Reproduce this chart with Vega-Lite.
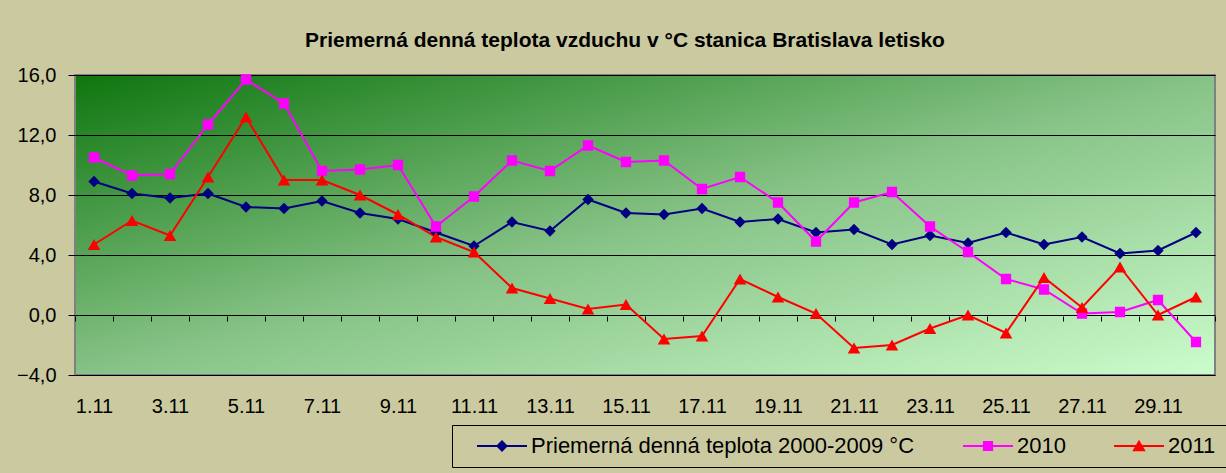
{
  "$schema": "https://vega.github.io/schema/vega-lite/v6.json",
  "width": 1140,
  "height": 300,
  "autosize": "none",
  "padding": {"left": 75, "top": 75, "right": 11, "bottom": 98},
  "background": "#cbc9a0",
  "title": {
    "text": "Priemerná denná teplota vzduchu v °C stanica Bratislava letisko",
    "font": "Liberation Sans",
    "fontSize": 21,
    "fontWeight": "bold",
    "color": "black",
    "anchor": "middle",
    "dx": -20,
    "offset": 14
  },
  "config": {
    "view": {
      "stroke": "#808080",
      "strokeWidth": 2,
      "fill": {
        "gradient": "linear",
        "x1": 0, "y1": 0, "x2": 1, "y2": 1,
        "stops": [
          {"offset": 0, "color": "#0e760e"},
          {"offset": 0.5, "color": "#86c286"},
          {"offset": 1, "color": "#ccfccc"}
        ]
      }
    },
    "axis": {"labelFont": "Liberation Sans", "labelColor": "black", "titleFont": "Liberation Sans"}
  },
  "data": {
    "values": [
      {"day": "1.11", "series": "Priemerná denná teplota 2000-2009 °C", "t": 8.9},
      {"day": "2.11", "series": "Priemerná denná teplota 2000-2009 °C", "t": 8.1},
      {"day": "3.11", "series": "Priemerná denná teplota 2000-2009 °C", "t": 7.8},
      {"day": "4.11", "series": "Priemerná denná teplota 2000-2009 °C", "t": 8.1},
      {"day": "5.11", "series": "Priemerná denná teplota 2000-2009 °C", "t": 7.2},
      {"day": "6.11", "series": "Priemerná denná teplota 2000-2009 °C", "t": 7.1},
      {"day": "7.11", "series": "Priemerná denná teplota 2000-2009 °C", "t": 7.6},
      {"day": "8.11", "series": "Priemerná denná teplota 2000-2009 °C", "t": 6.8},
      {"day": "9.11", "series": "Priemerná denná teplota 2000-2009 °C", "t": 6.4},
      {"day": "10.11", "series": "Priemerná denná teplota 2000-2009 °C", "t": 5.5},
      {"day": "11.11", "series": "Priemerná denná teplota 2000-2009 °C", "t": 4.6},
      {"day": "12.11", "series": "Priemerná denná teplota 2000-2009 °C", "t": 6.2},
      {"day": "13.11", "series": "Priemerná denná teplota 2000-2009 °C", "t": 5.6},
      {"day": "14.11", "series": "Priemerná denná teplota 2000-2009 °C", "t": 7.7},
      {"day": "15.11", "series": "Priemerná denná teplota 2000-2009 °C", "t": 6.8},
      {"day": "16.11", "series": "Priemerná denná teplota 2000-2009 °C", "t": 6.7},
      {"day": "17.11", "series": "Priemerná denná teplota 2000-2009 °C", "t": 7.1},
      {"day": "18.11", "series": "Priemerná denná teplota 2000-2009 °C", "t": 6.2},
      {"day": "19.11", "series": "Priemerná denná teplota 2000-2009 °C", "t": 6.4},
      {"day": "20.11", "series": "Priemerná denná teplota 2000-2009 °C", "t": 5.5},
      {"day": "21.11", "series": "Priemerná denná teplota 2000-2009 °C", "t": 5.7},
      {"day": "22.11", "series": "Priemerná denná teplota 2000-2009 °C", "t": 4.7},
      {"day": "23.11", "series": "Priemerná denná teplota 2000-2009 °C", "t": 5.3},
      {"day": "24.11", "series": "Priemerná denná teplota 2000-2009 °C", "t": 4.8},
      {"day": "25.11", "series": "Priemerná denná teplota 2000-2009 °C", "t": 5.5},
      {"day": "26.11", "series": "Priemerná denná teplota 2000-2009 °C", "t": 4.7},
      {"day": "27.11", "series": "Priemerná denná teplota 2000-2009 °C", "t": 5.2},
      {"day": "28.11", "series": "Priemerná denná teplota 2000-2009 °C", "t": 4.1},
      {"day": "29.11", "series": "Priemerná denná teplota 2000-2009 °C", "t": 4.3},
      {"day": "30.11", "series": "Priemerná denná teplota 2000-2009 °C", "t": 5.5},
      {"day": "1.11", "series": "2010", "t": 10.5},
      {"day": "2.11", "series": "2010", "t": 9.3},
      {"day": "3.11", "series": "2010", "t": 9.4},
      {"day": "4.11", "series": "2010", "t": 12.7},
      {"day": "5.11", "series": "2010", "t": 15.7},
      {"day": "6.11", "series": "2010", "t": 14.1},
      {"day": "7.11", "series": "2010", "t": 9.6},
      {"day": "8.11", "series": "2010", "t": 9.7},
      {"day": "9.11", "series": "2010", "t": 10.0},
      {"day": "10.11", "series": "2010", "t": 5.9},
      {"day": "11.11", "series": "2010", "t": 7.9},
      {"day": "12.11", "series": "2010", "t": 10.3},
      {"day": "13.11", "series": "2010", "t": 9.6},
      {"day": "14.11", "series": "2010", "t": 11.3},
      {"day": "15.11", "series": "2010", "t": 10.2},
      {"day": "16.11", "series": "2010", "t": 10.3},
      {"day": "17.11", "series": "2010", "t": 8.4},
      {"day": "18.11", "series": "2010", "t": 9.2},
      {"day": "19.11", "series": "2010", "t": 7.5},
      {"day": "20.11", "series": "2010", "t": 4.9},
      {"day": "21.11", "series": "2010", "t": 7.5},
      {"day": "22.11", "series": "2010", "t": 8.2},
      {"day": "23.11", "series": "2010", "t": 5.9},
      {"day": "24.11", "series": "2010", "t": 4.2},
      {"day": "25.11", "series": "2010", "t": 2.4},
      {"day": "26.11", "series": "2010", "t": 1.7},
      {"day": "27.11", "series": "2010", "t": 0.1},
      {"day": "28.11", "series": "2010", "t": 0.2},
      {"day": "29.11", "series": "2010", "t": 1.0},
      {"day": "30.11", "series": "2010", "t": -1.8},
      {"day": "1.11", "series": "2011", "t": 4.7},
      {"day": "2.11", "series": "2011", "t": 6.3},
      {"day": "3.11", "series": "2011", "t": 5.3},
      {"day": "4.11", "series": "2011", "t": 9.2},
      {"day": "5.11", "series": "2011", "t": 13.2},
      {"day": "6.11", "series": "2011", "t": 9.0},
      {"day": "7.11", "series": "2011", "t": 9.0},
      {"day": "8.11", "series": "2011", "t": 8.0},
      {"day": "9.11", "series": "2011", "t": 6.7},
      {"day": "10.11", "series": "2011", "t": 5.2},
      {"day": "11.11", "series": "2011", "t": 4.2},
      {"day": "12.11", "series": "2011", "t": 1.8},
      {"day": "13.11", "series": "2011", "t": 1.1},
      {"day": "14.11", "series": "2011", "t": 0.4},
      {"day": "15.11", "series": "2011", "t": 0.7},
      {"day": "16.11", "series": "2011", "t": -1.6},
      {"day": "17.11", "series": "2011", "t": -1.4},
      {"day": "18.11", "series": "2011", "t": 2.4},
      {"day": "19.11", "series": "2011", "t": 1.2},
      {"day": "20.11", "series": "2011", "t": 0.1},
      {"day": "21.11", "series": "2011", "t": -2.2},
      {"day": "22.11", "series": "2011", "t": -2.0},
      {"day": "23.11", "series": "2011", "t": -0.9},
      {"day": "24.11", "series": "2011", "t": 0.0},
      {"day": "25.11", "series": "2011", "t": -1.2},
      {"day": "26.11", "series": "2011", "t": 2.5},
      {"day": "27.11", "series": "2011", "t": 0.5},
      {"day": "28.11", "series": "2011", "t": 3.2},
      {"day": "29.11", "series": "2011", "t": 0.0},
      {"day": "30.11", "series": "2011", "t": 1.2}
    ]
  },
  "encoding": {
    "x": {
      "field": "day",
      "type": "ordinal",
      "scale": {
        "type": "band",
        "paddingInner": 0,
        "paddingOuter": 0,
        "domain": ["1.11","2.11","3.11","4.11","5.11","6.11","7.11","8.11","9.11","10.11","11.11","12.11","13.11","14.11","15.11","16.11","17.11","18.11","19.11","20.11","21.11","22.11","23.11","24.11","25.11","26.11","27.11","28.11","29.11","30.11"]
      },
      "axis": {
        "title": null,
        "orient": "bottom",
        "offset": -59,
        "domain": false,
        "ticks": true,
        "tickBand": "extent",
        "tickSize": 5,
        "tickColor": "black",
        "tickWidth": 1,
        "labelAngle": 0,
        "labelFontSize": 20,
        "labelPadding": 85,
        "labelBaseline": "middle",
        "labelOverlap": false,
        "labelExpr": "toNumber(split(datum.value, '.')[0]) % 2 === 1 ? datum.value : ''",
        "grid": false
      }
    },
    "y": {
      "field": "t",
      "type": "quantitative",
      "scale": {"domain": [-4, 16], "nice": false, "zero": false},
      "axis": {
        "title": null,
        "values": [-4, 0, 4, 8, 12, 16],
        "labelExpr": "replace(format(datum.value, '.1f'), '.', ',')",
        "labelFontSize": 20,
        "labelPadding": 12,
        "tickSize": 7,
        "tickColor": "black",
        "domain": false,
        "grid": true,
        "gridColor": "black",
        "gridWidth": 1,
        "gridOpacity": 1
      }
    }
  },
  "layer": [
    {
      "mark": {"type": "line", "strokeWidth": 2},
      "encoding": {
        "color": {
          "field": "series",
          "type": "nominal",
          "scale": {
            "domain": ["Priemerná denná teplota 2000-2009 °C", "2010", "2011"],
            "range": ["#000080", "#ff00ff", "#ff0000"]
          },
          "legend": {
            "title": null,
            "orient": "none",
            "legendX": 377,
            "legendY": 350,
            "direction": "horizontal",
            "padding": 10,
            "strokeColor": "black",
            "columnPadding": 33,
            "labelFont": "Liberation Sans",
            "labelFontSize": 22,
            "labelColor": "black",
            "labelLimit": 0,
            "labelOffset": 18,
            "symbolOffset": 29,
            "symbolSize": 330,
            "symbolStrokeWidth": 2,
            "symbolOpacity": 1
          }
        }
      }
    },
    {
      "mark": {"type": "point", "filled": true, "opacity": 1, "strokeWidth": 0, "size": 520},
      "encoding": {
        "shape": {
          "field": "series",
          "type": "nominal",
          "scale": {
            "domain": ["Priemerná denná teplota 2000-2009 °C", "2010", "2011"],
            "range": [
              "M-2.75,0H2.75M-0.5,0L0,-0.5L0.5,0L0,0.5Z",
              "M-2.75,0H2.75M-0.45,-0.45H0.45V0.45H-0.45Z",
              "M-2.75,0H2.75M0,-0.476L0.55,0.476L-0.55,0.476Z"
            ]
          },
          "legend": {
            "title": null,
            "orient": "none",
            "legendX": 377,
            "legendY": 350,
            "direction": "horizontal",
            "padding": 10,
            "strokeColor": "black",
            "columnPadding": 33,
            "labelFont": "Liberation Sans",
            "labelFontSize": 22,
            "labelColor": "black",
            "labelLimit": 0,
            "labelOffset": 18,
            "symbolOffset": 29,
            "symbolSize": 330,
            "symbolStrokeWidth": 2,
            "symbolOpacity": 1
          }
        },
        "color": {
          "field": "series",
          "type": "nominal",
          "scale": {
            "domain": ["Priemerná denná teplota 2000-2009 °C", "2010", "2011"],
            "range": ["#000080", "#ff00ff", "#ff0000"]
          },
          "legend": {
            "title": null,
            "orient": "none",
            "legendX": 377,
            "legendY": 350,
            "direction": "horizontal",
            "padding": 10,
            "strokeColor": "black",
            "columnPadding": 33,
            "labelFont": "Liberation Sans",
            "labelFontSize": 22,
            "labelColor": "black",
            "labelLimit": 0,
            "labelOffset": 18,
            "symbolOffset": 29,
            "symbolSize": 330,
            "symbolStrokeWidth": 2,
            "symbolOpacity": 1
          }
        },
        "stroke": {
          "field": "series",
          "type": "nominal",
          "scale": {
            "domain": ["Priemerná denná teplota 2000-2009 °C", "2010", "2011"],
            "range": ["#000080", "#ff00ff", "#ff0000"]
          },
          "legend": {
            "title": null,
            "orient": "none",
            "legendX": 377,
            "legendY": 350,
            "direction": "horizontal",
            "padding": 10,
            "strokeColor": "black",
            "columnPadding": 33,
            "labelFont": "Liberation Sans",
            "labelFontSize": 22,
            "labelColor": "black",
            "labelLimit": 0,
            "labelOffset": 18,
            "symbolOffset": 29,
            "symbolSize": 330,
            "symbolStrokeWidth": 2,
            "symbolOpacity": 1
          }
        }
      }
    }
  ]
}
